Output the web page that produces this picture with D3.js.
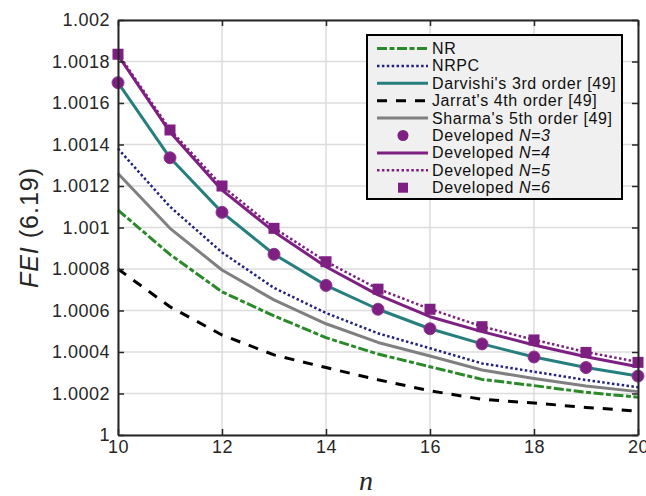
<!DOCTYPE html>
<html>
<head>
<meta charset="utf-8">
<script src="https://cdn.jsdelivr.net/npm/d3@7"></script>
<style>
  body { margin: 0; background: #fff; }
  text { font-family: "Liberation Sans", Arial, sans-serif; }
</style>
</head>
<body>
<div id="chart"></div>
<script>
// n values on the x axis
var nVals = [10, 11, 12, 13, 14, 15, 16, 17, 18, 19, 20];

// FEI (6.19) per method
var nr       = [1.001084, 1.00087, 1.00069, 1.000574, 1.000469, 1.00039, 1.000329, 1.000268, 1.000238, 1.000206, 1.000182];
var nrpc     = [1.00138, 1.0011, 1.00088, 1.000709, 1.000588, 1.00049, 1.000418, 1.000345, 1.000305, 1.000265, 1.00023];
var darvishi = [1.001698, 1.001336, 1.001073, 1.000871, 1.000721, 1.000606, 1.000512, 1.000439, 1.000376, 1.000325, 1.000284];
var jarrat   = [1.0008, 1.000618, 1.000482, 1.000386, 1.000325, 1.000266, 1.000213, 1.000172, 1.000154, 1.000133, 1.000115];
var sharma   = [1.00126, 1.000996, 1.000795, 1.000651, 1.000536, 1.000446, 1.000381, 1.000313, 1.000272, 1.000236, 1.000209];
var dev3     = [1.001698, 1.001336, 1.001073, 1.000871, 1.000721, 1.000606, 1.000512, 1.000439, 1.000376, 1.000325, 1.000284];
var dev4     = [1.00183, 1.00146, 1.00118, 1.00098, 1.000811, 1.000675, 1.00057, 1.000498, 1.000434, 1.000377, 1.000329];
var dev5     = [1.001838, 1.001472, 1.0012, 1.000998, 1.000836, 1.000704, 1.000607, 1.000523, 1.000459, 1.0004, 1.000352];
var dev6     = [1.001835, 1.00147, 1.0012, 1.000996, 1.000835, 1.000703, 1.000606, 1.000522, 1.000458, 1.000398, 1.00035];

var xTicks = [10, 12, 14, 16, 18, 20];
var yTicks = [1, 1.0002, 1.0004, 1.0006, 1.0008, 1.001, 1.0012, 1.0014, 1.0016, 1.0018, 1.002];
var yTickLabels = ["1", "1.0002", "1.0004", "1.0006", "1.0008", "1.001", "1.0012", "1.0014", "1.0016", "1.0018", "1.002"];

var purple = "#7e1f82";

// line series (drawn in this order)
var series = [
  {name: "NR", values: nr, color: "#2a8a2a", dash: "10,2.5,5,2.5", width: 3},
  {name: "NRPC", values: nrpc, color: "#22227f", dash: "2.5,2.4", width: 2.5},
  {name: "Darvishi's 3rd order [49]", values: darvishi, color: "#257f7e", dash: null, width: 3},
  {name: "Jarrat's 4th order [49]", values: jarrat, color: "#000", dash: "10,9", width: 3},
  {name: "Sharma's 5th order [49]", values: sharma, color: "#808080", dash: null, width: 3},
  {name: "Developed N=4", values: dev4, color: purple, dash: null, width: 3},
  {name: "Developed N=5", values: dev5, color: purple, dash: "2.5,2.4", width: 2.5}
];

var W = 646, H = 496;
var margin = {top: 20, right: 8, bottom: 61, left: 118},
    width = W - margin.left - margin.right,
    height = H - margin.top - margin.bottom;

var svg = d3.select("#chart").append("svg")
    .attr("width", W)
    .attr("height", H);

var g = svg.append("g")
    .attr("transform", "translate(" + margin.left + "," + margin.top + ")");

var x = d3.scaleLinear().domain([10, 20]).range([0, width]);
var y = d3.scaleLinear().domain([1, 1.002]).range([height, 0]);

// grid
g.append("g").selectAll("line.gx")
    .data(xTicks).enter().append("line")
    .attr("x1", d => x(d)).attr("x2", d => x(d))
    .attr("y1", 0).attr("y2", height)
    .attr("stroke", "#dcdcdc").attr("stroke-width", 1.5);
g.append("g").selectAll("line.gy")
    .data(yTicks).enter().append("line")
    .attr("x1", 0).attr("x2", width)
    .attr("y1", d => y(d)).attr("y2", d => y(d))
    .attr("stroke", "#dcdcdc").attr("stroke-width", 1.5);

g.append("clipPath").attr("id", "clip")
    .append("rect").attr("x", -10).attr("y", -10).attr("width", width + 20).attr("height", height + 20);

var plot = g.append("g").attr("clip-path", "url(#clip)");

var line = d3.line()
    .x((d, i) => x(nVals[i]))
    .y(d => y(d));

series.forEach(function(s) {
  plot.append("path")
    .datum(s.values)
    .attr("d", line)
    .attr("fill", "none")
    .attr("stroke", s.color)
    .attr("stroke-width", s.width)
    .attr("stroke-dasharray", s.dash)
    .attr("stroke-linejoin", "round");
});

// markers: Developed N=3 circles, N=6 squares
plot.selectAll("circle.d3m")
    .data(dev3).enter().append("circle")
    .attr("cx", (d, i) => x(nVals[i]))
    .attr("cy", d => y(d))
    .attr("r", 6)
    .attr("fill", purple)
    .attr("stroke", "#8e3a92").attr("stroke-width", 1);

plot.selectAll("rect.d6m")
    .data(dev6).enter().append("rect")
    .attr("x", (d, i) => x(nVals[i]) - 5.5)
    .attr("y", d => y(d) - 5.5)
    .attr("width", 11).attr("height", 11)
    .attr("fill", purple);

// axes, ticks inside on all sides
var axisColor = "#262626";
var axBottom = g.append("g").attr("transform", "translate(0," + height + ")")
    .call(d3.axisBottom(x).tickValues(xTicks).tickSizeInner(-6).tickSizeOuter(0).tickPadding(5));
var axTop = g.append("g")
    .call(d3.axisTop(x).tickValues(xTicks).tickSizeInner(-6).tickSizeOuter(0).tickFormat(""));
var axLeft = g.append("g")
    .call(d3.axisLeft(y).tickValues(yTicks).tickSizeInner(-6).tickSizeOuter(0).tickPadding(8)
      .tickFormat((d, i) => yTickLabels[i]));
var axRight = g.append("g").attr("transform", "translate(" + width + ",0)")
    .call(d3.axisRight(y).tickValues(yTicks).tickSizeInner(-6).tickSizeOuter(0).tickFormat(""));

[axBottom, axTop, axLeft, axRight].forEach(function(a) {
  a.select(".domain").attr("stroke", axisColor).attr("stroke-width", 2);
  a.selectAll(".tick line").attr("stroke", axisColor).attr("stroke-width", 1.5);
  a.selectAll(".tick text").attr("fill", axisColor)
    .style("font-family", "'Liberation Sans', Arial, sans-serif")
    .style("font-size", "18px")
    .style("letter-spacing", "0.5px");
});

// axis labels
svg.append("text")
    .attr("x", 366).attr("y", 490)
    .attr("text-anchor", "middle")
    .style("font-family", "'Liberation Serif', 'Times New Roman', serif")
    .style("font-style", "italic")
    .style("font-size", "28px")
    .attr("fill", axisColor)
    .text("n");

var yl = svg.append("text")
    .attr("transform", "translate(38," + (margin.top + height / 2) + ") rotate(-90)")
    .attr("text-anchor", "middle")
    .style("font-size", "25px")
    .style("letter-spacing", "1px")
    .attr("fill", axisColor);
yl.append("tspan").style("font-style", "italic").text("FEI");
yl.append("tspan").text(" (6.19)");

// legend
var legendItems = [
  {label: "NR", s: series[0]},
  {label: "NRPC", s: series[1]},
  {label: "Darvishi's 3rd order [49]", s: series[2]},
  {label: "Jarrat's 4th order [49]", s: series[3]},
  {label: "Sharma's 5th order [49]", s: series[4]},
  {label: "Developed ", it: "N=3", marker: "circle"},
  {label: "Developed ", it: "N=4", s: series[5]},
  {label: "Developed ", it: "N=5", s: series[6]},
  {label: "Developed ", it: "N=6", marker: "square"}
];

var lg = svg.append("g").attr("transform", "translate(367,35)");
lg.append("rect")
    .attr("width", 255).attr("height", 164)
    .attr("fill", "#f0f0f0")
    .attr("stroke", "#000").attr("stroke-width", 2);

legendItems.forEach(function(it, i) {
  var cy = 13.5 + i * 17.4;
  if (it.s) {
    lg.append("line")
      .attr("x1", 10).attr("x2", 61).attr("y1", cy).attr("y2", cy)
      .attr("stroke", it.s.color)
      .attr("stroke-width", it.s.width)
      .attr("stroke-dasharray", it.s.dash);
  } else if (it.marker === "circle") {
    lg.append("circle").attr("cx", 36).attr("cy", cy).attr("r", 5.5).attr("fill", purple);
  } else {
    lg.append("rect").attr("x", 31).attr("y", cy - 5).attr("width", 10).attr("height", 10).attr("fill", purple);
  }
  var t = lg.append("text")
    .attr("x", 65).attr("y", cy + 5.5)
    .style("font-size", "16px")
    .style("letter-spacing", "0.6px")
    .attr("fill", "#111");
  t.append("tspan").text(it.label);
  if (it.it) t.append("tspan").style("font-style", "italic").text(it.it);
});
</script>
</body>
</html>
